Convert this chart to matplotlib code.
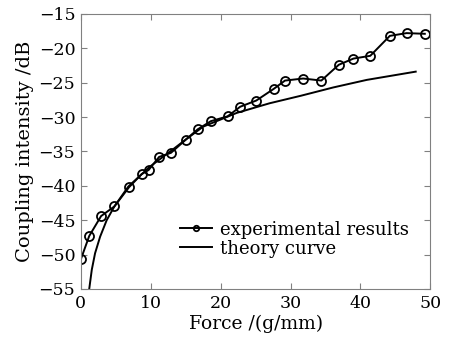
import matplotlib
matplotlib.use("Agg")
import matplotlib.pyplot as plt

# experimental results
exp_force = [0.0, 1.2, 2.9, 4.8, 6.9, 8.7, 9.7, 11.2, 12.9, 15.0, 16.7, 18.6,
             21.0, 22.8, 25.1, 27.6, 29.2, 31.8, 34.4, 36.9, 39.0, 41.4, 44.2, 46.6, 49.2]
exp_coupling = [-50.7, -47.3, -44.4, -43.0, -40.2, -38.3, -37.7, -35.8, -35.2, -33.3, -31.8, -30.6,
                -29.9, -28.5, -27.6, -25.9, -24.7, -24.4, -24.7, -22.4, -21.5, -21.1, -18.2, -17.8, -17.9]

# theory curve
th_force = [1.19, 1.57, 2.04, 2.76, 3.7, 4.8, 6.8, 9.9, 12.8, 15.1, 17.5, 22.3,
            27.0, 31.5, 36.1, 40.9, 47.9]
th_coupling = [-55.1, -52.2, -49.8, -47.4, -45.0, -43.0, -40.1, -37.2, -35.0, -33.2, -31.4, -29.4,
               -28.0, -26.9, -25.7, -24.6, -23.4]

xticks = [0, 10, 20, 30, 40, 50]
yticks = [-55, -50, -45, -40, -35, -30, -25, -20, -15]

plt.rcParams['font.family'] = ['DejaVu Serif']
plt.rcParams['mathtext.fontset'] = 'dejavuserif'

fig = plt.figure(figsize=(4.54, 3.38), dpi=100)
ax = fig.add_axes([0.178, 0.145, 0.77, 0.814])

ax.plot(exp_force, exp_coupling, '-o', color='black', lw=1.4, ms=6.5,
        mfc='none', mew=1.3, label='experimental results')
ax.plot(th_force, th_coupling, '-', color='black', lw=1.4, label='theory curve')

ax.set_xlim(0, 50)
ax.set_ylim(-55, -15)
ax.set_xticks(xticks)
ax.set_yticks(yticks)
ax.tick_params(direction='in', top=True, right=True, length=4, color='#808080',
               labelsize=12.5, pad=4)
for s in ax.spines.values():
    s.set_color('#808080')
    s.set_linewidth(0.8)

ax.set_xlabel('Force /(g/mm)', fontsize=13.5, labelpad=2)
ax.set_ylabel('Coupling intensity /dB', fontsize=14, labelpad=3)

leg = ax.legend(loc='lower right', bbox_to_anchor=(0.958, 0.088), frameon=False,
                fontsize=13, handlelength=1.8, handletextpad=0.4,
                labelspacing=0.05, borderaxespad=0, markerscale=0.6)

fig.savefig('out.png', dpi=100)
